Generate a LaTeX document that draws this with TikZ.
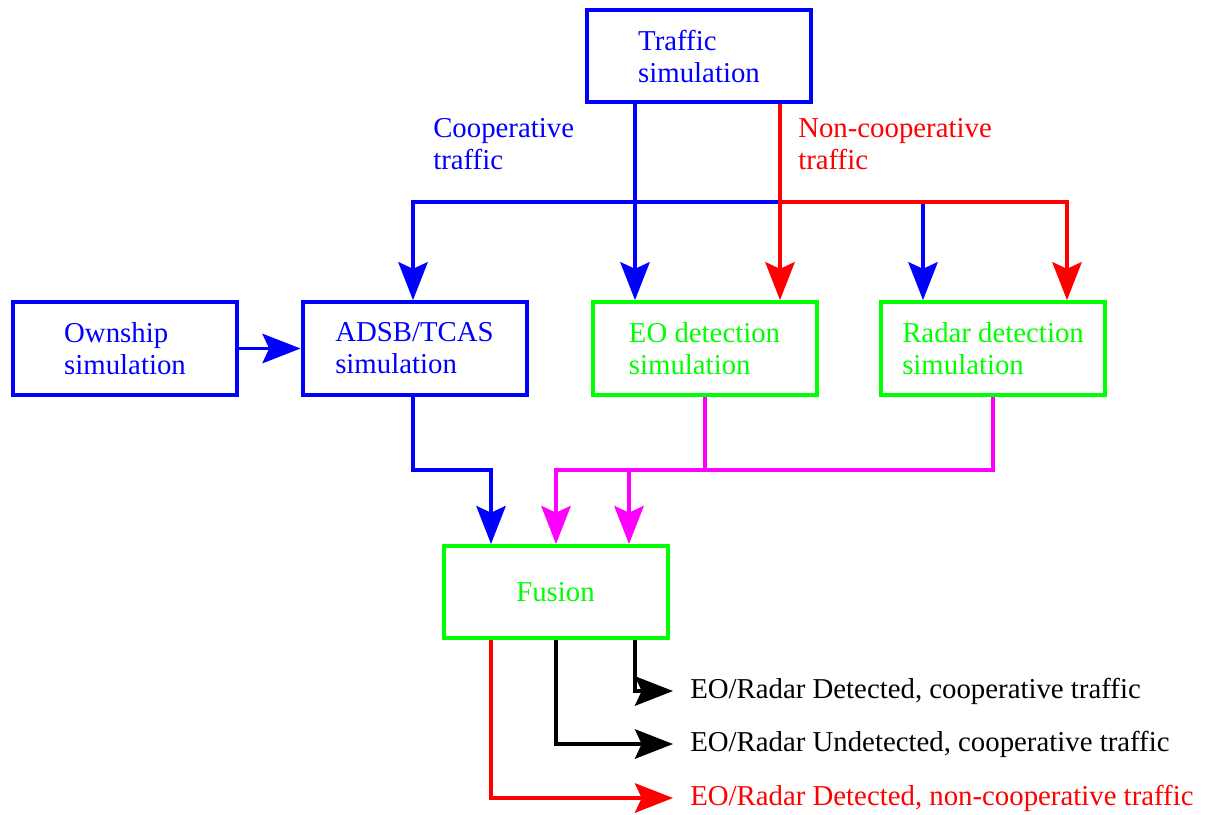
\documentclass[tikz,border=0pt]{standalone}
\usepackage{fontspec}
\setmainfont{Liberation Serif}
\usetikzlibrary{arrows.meta}
\definecolor{cblue}{RGB}{0,0,255}
\definecolor{cgreen}{RGB}{0,255,0}
\definecolor{cred}{RGB}{255,0,0}
\definecolor{cmag}{RGB}{255,0,255}
\tikzset{
  txt/.style={font=\fontsize{21.6}{24}\selectfont, inner sep=0pt, align=left},
  box/.style={txt, draw, line width=3pt, minimum width=168pt, minimum height=69.5pt},
  bluebox/.style={box, draw=cblue, text=cblue},
  greenbox/.style={box, draw=cgreen, text=cgreen},
  wire/.style={line width=2.8pt},
  tip/.style={-{Stealth[length=28.5pt,width=22pt,inset=5pt]}},
}
\begin{document}
\begin{tikzpicture}[x=0.75pt,y=-0.75pt]
\useasboundingbox (0,0) rectangle (1213,814);

% blocks
\node[bluebox]  (traffic) at (699,56)    {Traffic\\simulation};
\node[bluebox]  (own)     at (125,348.5) {Ownship\\simulation};
\node[bluebox]  (adsb)    at (414.5,348.5) {ADSB/TCAS\\simulation};
\node[greenbox] (eo)      at (704.5,348.5) {EO detection\\simulation};
\node[greenbox] (radar)   at (993,348.5) {Radar detection\\simulation};
\node[greenbox, minimum height=69pt] (fusion) at (555.5,592) {Fusion};

% traffic class labels
\node[txt, text=cblue, anchor=west] (coop)    at (433,144.5) {Cooperative\\traffic};
\node[txt, text=cred,  anchor=west] (noncoop) at (798,144.5) {Non-cooperative\\traffic};

% output labels
\node[txt, anchor=west] (out1) at (690,691) {EO/Radar Detected, cooperative traffic};
\node[txt, anchor=west] (out2) at (690,744) {EO/Radar Undetected, cooperative traffic};
\node[txt, anchor=west, text=cred] (out3) at (690,798) {EO/Radar Detected, non-cooperative traffic};

% junction points
\coordinate (bj) at (635,202);
\coordinate (rj) at (780,202);
\coordinate (aj) at (413,470);
\coordinate (mj) at (705,470);

% cooperative traffic (blue)
\draw[wire, cblue] (traffic.south -| bj) -- (bj);
\draw[wire, cblue] (bj) -- (bj -| 923,0);
\draw[wire, cblue, tip] (bj) -| (adsb.north -| 413,0);
\draw[wire, cblue, tip] (bj) -- (eo.north -| bj);
\draw[wire, cblue, tip] (bj -| 923,0) -- (radar.north -| 923,0);

% non-cooperative traffic (red)
\draw[wire, cred] (traffic.south -| rj) -- (rj);
\draw[wire, cred, tip] (rj) -- (eo.north -| rj);
\draw[wire, cred, tip] (rj) -| (radar.north -| 1067,0);

% ownship to ADSB
\draw[wire, cblue, tip] (own.east) -- (adsb.west);

% ADSB to fusion
\draw[wire, cblue, tip] (adsb.south -| aj) -- (aj) -| (fusion.north -| 491,0);

% detections to fusion (magenta)
\draw[wire, cmag] (eo.south -| mj) -- (mj);
\draw[wire, cmag] (radar.south) |- (mj);
\draw[wire, cmag, tip] (mj) -| (fusion.north -| 556,0);
\draw[wire, cmag, tip] (mj -| 629,0) -- (fusion.north -| 629,0);

% fusion outputs
\draw[wire, black, tip] (fusion.south -| 635,0) |- ([xshift=-12.75pt]out1.west);
\draw[wire, black, tip] (fusion.south -| 556,0) |- ([xshift=-12.75pt]out2.west);
\draw[wire, cred, tip]  (fusion.south -| 491,0) |- ([xshift=-12.75pt]out3.west);
\end{tikzpicture}
\end{document}
